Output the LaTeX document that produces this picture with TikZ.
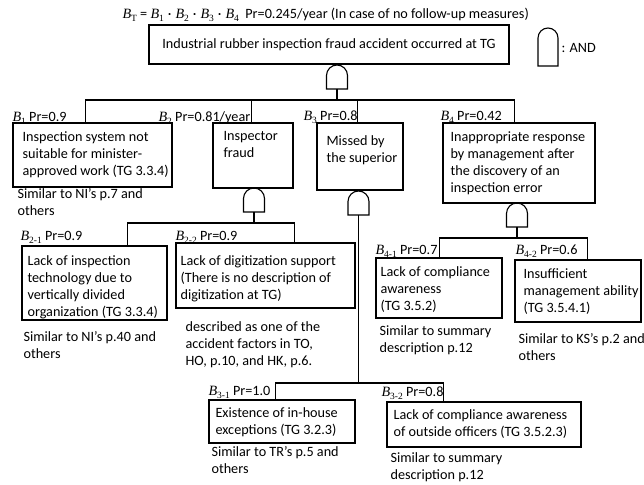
\documentclass[tikz,border=0pt]{standalone}
\usepackage{fontspec}
\setmainfont{Carlito}
\newfontfamily\symfam{Liberation Serif}
% event symbol: italic B with an upright subscript
\newcommand{\Bev}[1]{{\symfam\itshape B}\raisebox{-0.35ex}{\symfam\fontsize{9.5}{10}\selectfont #1}}
\newcommand{\mdot}{\hspace{4pt}·\hspace{4pt}}
\begin{document}
\begin{tikzpicture}[x=1pt,y=1pt,
  font=\fontsize{14.2}{17}\selectfont,
  line width=1.1pt,
  box/.style={draw, line width=1.1pt, inner sep=0pt},
  txt/.style={anchor=north west, inner sep=0pt, align=left},
  lbl/.style={anchor=base west, inner sep=0pt},
  andgate/.pic={
    \draw (-10.5pt,0pt) -- (-10.5pt,13.5pt) arc[start angle=180,end angle=0,radius=10.5pt] -- (10.5pt,0pt) -- cycle;
    \coordinate (-out) at (0,0);
    \coordinate (-in) at (0,24);
  },
  andkey/.pic={
    \draw (-10pt,0pt) -- (-10pt,28pt) arc[start angle=180,end angle=0,radius=10pt] -- (10pt,0pt) -- cycle;
  }]
\fill[white] (0,0) rectangle (644,484);
\useasboundingbox (0,0) rectangle (644,484);

% top event
\node[anchor=west, inner sep=0pt] (title) at (122,469)
  {\Bev{T} = \Bev{1}\mdot\Bev{2}\mdot\Bev{3}\mdot\Bev{4}\ \ Pr=0.245/year (In case of no follow-up measures)};
\node[box, minimum width=360pt, minimum height=39pt] (top) at (329,439.5)
  {Industrial rubber inspection fraud accident occurred at TG};

% legend
\pic (key) at (548,418) {andkey};
\node[anchor=west, inner sep=0pt] (andtxt) at (561,436) {: AND};

% first level
\node[box, minimum width=159pt, minimum height=64pt] (b1) at (92.5,329) {};
\node[lbl] (l1) at (12,362) {\Bev{1} Pr=0.9};
\node[txt] (t1) at (22,353) {Inspection system not\\suitable for minister-\\approved work (TG 3.3.4)};
\node[txt] (n1) at (17,296) {Similar to NI’s p.7 and\\others};

\node[box, minimum width=80pt, minimum height=65pt] (b2) at (253,328.5) {};
\node[lbl] (l2) at (158,362) {\Bev{2} Pr=0.81/year};
\node[txt] (t2) at (223,353) {Inspector\\fraud};

\node[box, minimum width=86pt, minimum height=67pt] (b3) at (360,327.5) {};
\node[lbl] (l3) at (303,363) {\Bev{3} Pr=0.8};
\node[txt] (t3) at (326,349) {Missed by\\the superior};

\node[box, minimum width=152pt, minimum height=80pt] (b4) at (519,321) {};
\node[lbl] (l4) at (440,363) {\Bev{4} Pr=0.42};
\node[txt] (t4) at (450,353) {Inappropriate response\\by management after\\the discovery of an\\inspection error};

% second level under B2
\node[box, minimum width=145pt, minimum height=74pt] (b21) at (94.5,201) {};
\node[lbl] (l21) at (20,243) {\Bev{2-1} Pr=0.9};
\node[txt] (t21) at (27,229) {Lack of inspection\\technology due to\\vertically divided\\organization (TG 3.3.4)};
\node[txt] (n21) at (23,153) {Similar to NI’s p.40 and\\others};

\node[box, minimum width=179pt, minimum height=65pt] (b22) at (265.5,208.5) {};
\node[lbl] (l22) at (175,243) {\Bev{2-2} Pr=0.9};
\node[txt] (t22) at (180,229) {Lack of digitization support\\(There is no description of\\digitization at TG)};
\node[txt] (n22) at (185,163) {described as one of the\\accident factors in TO,\\HO, p.10, and HK, p.6.};

% second level under B4
\node[box, minimum width=126pt, minimum height=60pt] (b41) at (439,196) {};
\node[lbl] (l41) at (375,229) {\Bev{4-1} Pr=0.7};
\node[txt] (t41) at (380,218) {Lack of compliance\\awareness\\(TG 3.5.2)};
\node[txt] (n41) at (379,159) {Similar to summary\\description p.12};

\node[box, minimum width=126pt, minimum height=62pt] (b42) at (578,193) {};
\node[lbl] (l42) at (515,229) {\Bev{4-2} Pr=0.6};
\node[txt] (t42) at (523,216) {Insufficient\\management ability\\(TG 3.5.4.1)};
\node[txt] (n42) at (518,151) {Similar to KS’s p.2 and\\others};

% second level under B3
\node[box, minimum width=146pt, minimum height=43pt] (b31) at (282,62.5) {};
\node[lbl] (l31) at (208,88) {\Bev{3-1} Pr=1.0};
\node[txt] (t31) at (215,77) {Existence of in-house\\exceptions (TG 3.2.3)};
\node[txt] (n31) at (211,38) {Similar to TR’s p.5 and\\others};

\node[box, minimum width=194pt, minimum height=45pt] (b32) at (484,59.5) {};
\node[lbl] (l32) at (381,87) {\Bev{3-2} Pr=0.8};
\node[txt] (t32) at (393,75) {Lack of compliance awareness\\of outside officers (TG 3.5.2.3)};
\node[txt] (n32) at (390,32) {Similar to summary\\description p.12};

% AND gates
\pic (g0) at (337,395) {andgate};
\pic (g2) at (254,272) {andgate};
\pic (g3) at (358.5,269) {andgate};
\pic (g4) at (517,257) {andgate};

% junctions
\coordinate (j0) at (337,384);
\coordinate (j2) at (254,261);
\coordinate (j3) at (358.5,101);
\coordinate (j4) at (517,246);

% connectors
\draw (g0-out) -- (j0);
\draw ([xshift=73pt]b1.north west) |- (j0) -| ([xshift=72pt]b4.north west);
\draw ([xshift=39pt]b2.north west) -- ([xshift=39pt]b2.north west |- j0);
\draw ([xshift=41pt]b3.north west) -- ([xshift=41pt]b3.north west |- j0);

\draw (g2-out) -- (j2);
\draw ([xshift=106pt]b21.north west) |- (j2) -| ([xshift=119pt]b22.north west);

\draw (g4-out) -- (j4);
\draw ([xshift=64pt]b41.north west) |- (j4) -| ([xshift=73pt]b42.north west);

\draw (g3-out) -- (j3);
\draw ([xshift=67pt]b31.north west) |- (j3) -| ([xshift=57pt]b32.north west);
\end{tikzpicture}
\end{document}
